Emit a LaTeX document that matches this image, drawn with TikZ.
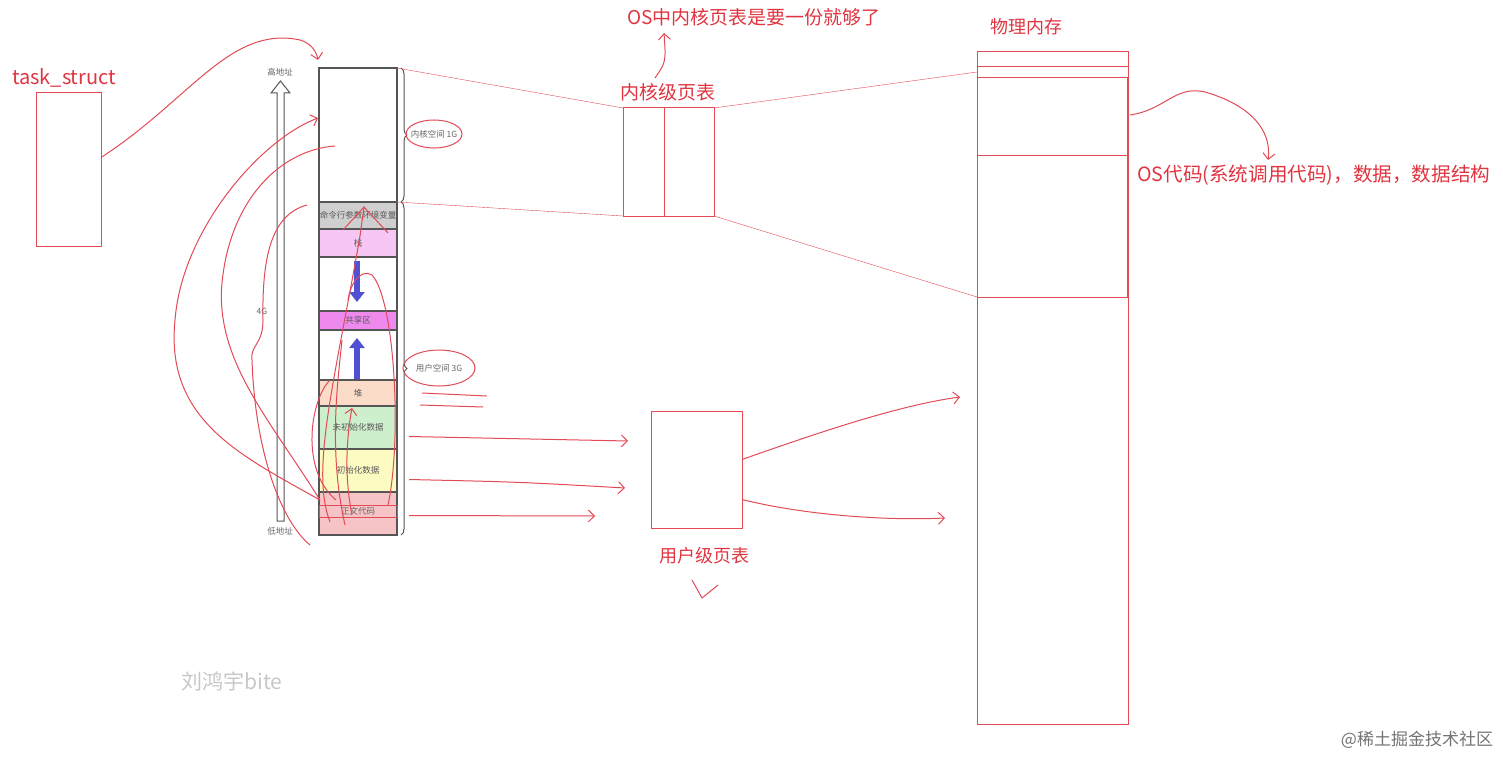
\documentclass[tikz,border=0pt]{standalone}
\usepackage{fontspec}
\setmainfont{Noto Sans CJK SC}
\usetikzlibrary{arrows.meta,decorations.pathreplacing}

\definecolor{pen}{HTML}{E24A55}
\definecolor{inkred}{HTML}{E03440}
\definecolor{segline}{HTML}{555555}
\definecolor{fillargv}{HTML}{CFCFCF}
\definecolor{fillstack}{HTML}{F6C6F4}
\definecolor{fillshm}{HTML}{EE8AEE}
\definecolor{fillheap}{HTML}{FADCC8}
\definecolor{fillbss}{HTML}{CDEFCB}
\definecolor{filldata}{HTML}{FBFBC2}
\definecolor{filltext}{HTML}{F6C4C6}
\definecolor{blockblue}{HTML}{5050D2}

\tikzset{
  seg/.style={draw=segline, line width=1.2pt, minimum width=78pt, inner sep=0pt, outer sep=0pt, font=\fontsize{8.5}{9}\selectfont, text=black!65},
  redbox/.style={draw=pen, line width=1pt, inner sep=0pt, outer sep=0pt},
  scrib/.style={draw=pen, line width=1pt},
  hook/.style={scrib, -{Straight Barb[length=6pt,width=12pt]}},
  redtxt/.style={text=inkred, font=\fontsize{19}{21}\selectfont, inner sep=0pt},
  graylbl/.style={text=black!60, font=\fontsize{8.5}{9}\selectfont, inner sep=0pt},
  blockarrow/.style={draw=blockblue!70!black, line width=6pt, blockblue, -{Triangle[length=10pt,width=15pt]}},
}

\begin{document}
\begin{tikzpicture}[x=1pt, y=-1pt]
\useasboundingbox (0,0) rectangle (1503,757);

% task_struct
\node[redbox, minimum width=65pt, minimum height=153pt] (task) at (68.5,169.5) {};
\node[redtxt, font=\fontsize{20}{22}\selectfont] (tasklbl) at (64,78) {task\_struct};

% address arrow
\draw[segline, line width=1pt, fill=white] (277,521) -- (277,93) -- (271,93) -- (280.5,81) -- (290,93) -- (284,93) -- (284,521) -- cycle;
\node[graylbl] (hiaddr) at (280,72) {高地址};
\node[graylbl] (loaddr) at (280,531) {低地址};
\node[graylbl] (fourg) at (262,311) {4G};

% process address space
\node[seg, fill=white, minimum height=134pt] (kern) at (358,135) {};
\node[seg, fill=fillargv, minimum height=27pt] (argv) at (358,215.5) {命令行参数环境变量};
\node[seg, fill=fillstack, minimum height=28pt] (stack) at (358,243) {栈};
\node[seg, fill=white, minimum height=54pt] (gapa) at (358,284) {};
\node[seg, fill=fillshm, minimum height=19pt] (shm) at (358,320.5) {共享区};
\node[seg, fill=white, minimum height=50pt] (gapb) at (358,355) {};
\node[seg, fill=fillheap, minimum height=26pt] (heap) at (358,393) {堆};
\node[seg, fill=fillbss, minimum height=43pt] (bss) at (358,427.5) {未初始化数据};
\node[seg, fill=filldata, minimum height=43pt] (data) at (358,470.5) {初始化数据};
\node[seg, fill=filltext, minimum height=43pt] (code) at (358,513.5) {};
\node[redbox, minimum width=78pt, minimum height=12pt, graylbl] (codelbl) at (358,511.5) {正文代码};

\draw[blockarrow] (357,261) -- (357,302);
\draw[blockarrow] (357,379) -- (357,338);

% braces
\draw[segline, line width=1pt, decorate, decoration={brace, amplitude=6pt}] (401,68) -- (401,202);
\draw[segline, line width=1pt, decorate, decoration={brace, amplitude=6pt}] (401,202) -- (401,535);
\node[graylbl] (kspace) at (434,134) {内核空间 1G};
\node[graylbl] (uspace) at (439,368) {用户空间 3G};
\draw[scrib] (kspace) ellipse [x radius=28, y radius=14];
\draw[scrib] (uspace) ellipse [x radius=36, y radius=18];
\draw[scrib] (422,393) -- (487,396);
\draw[scrib] (420,405) -- (483,407);

% kernel page table
\node[redbox, minimum width=41pt, minimum height=108pt] (kptl) at (643.5,162) {};
\node[redbox, minimum width=50pt, minimum height=108pt] (kptr) at (689,162) {};
\node[redtxt] (kptlbl) at (668,92) {内核级页表};
\node[redtxt] (oslbl) at (754,17) {OS中内核页表是要一份就够了};
\draw[hook] (655,78) .. controls (666,62) .. (664,33);

% physical memory
\node[redbox, minimum width=151pt, minimum height=672pt] (pm) at (1052.5,388) {};
\node[redtxt, font=\fontsize{18}{20}\selectfont] (pmlbl) at (1026,27) {物理内存};
\coordinate (pmtop) at (977,72);
\coordinate (pmbot) at (977,297);
\draw[pen] (977,66) -- (1128,66);
\draw[pen] (977,77) -- (1128,77);
\draw[pen] (977,155) -- (1128,155);
\draw[pen] (977,297) -- (1128,297);
\draw[pen, line width=2.2pt] (1128,77) -- (1128,297);
\node[redtxt, font=\fontsize{19.6}{22}\selectfont, anchor=west] (oscode) at (1137,175) {OS代码(系统调用代码)，数据，数据结构};
\draw[hook] (1130,115) .. controls (1165,110) and (1175,85) .. (1205,92) .. controls (1250,105) and (1272,130) .. (1268,160);

% mappings
\draw[pen] (kern.north east) -- (kptl.north west);
\draw[pen] (argv.north east) -- (kptl.south west);
\draw[pen] (kptr.north east) -- (pmtop);
\draw[pen] (kptr.south east) -- (pmbot);

% user page table
\node[redbox, minimum width=91pt, minimum height=117pt] (upt) at (696.5,469.5) {};
\node[redtxt, font=\fontsize{18}{20}\selectfont] (uptlbl) at (704,556) {用户级页表};
\draw[scrib] (692,580) -- (702,598) -- (718,585);
\coordinate (uina) at (628,441);
\coordinate (uinb) at (625,488);
\coordinate (uinc) at (595,516);
\coordinate (pmina) at (960,397);
\coordinate (pminb) at (945,518);
\draw[hook] ([shift={(12pt,-9pt)}]bss.east) -- (uina);
\draw[hook] ([shift={(12pt,-9pt)}]data.east) .. controls (520,482) .. (uinb);
\draw[hook] ([shift={(12pt,-2pt)}]code.east) -- (uinc);
\draw[hook] ([yshift=10pt]upt.east) .. controls (820,432) and (900,405) .. (pmina);
\draw[hook] ([yshift=-30pt]upt.east) .. controls (800,514) and (880,521) .. (pminb);

% task_struct -> address space
\draw[hook] ([yshift=12pt]task.east) .. controls (190,100) and (230,25) .. (300,40) .. controls (310,43) and (316,50) .. (318,60);

% scribbles around the address space
\draw[hook] (320,500) .. controls (240,455) and (165,420) .. (175,320) .. controls (182,230) and (260,140) .. (318,118);
\draw[scrib] (320,500) .. controls (270,420) and (215,360) .. (222,283) .. controls (230,200) and (280,150) .. (335,146);
\draw[scrib] (307,205) .. controls (270,215) and (262,260) .. (263,320) .. controls (263,345) and (250,345) .. (252,360) .. controls (255,450) and (280,520) .. (310,545);
\draw[scrib] (330,522) .. controls (310,470) and (335,380) .. (360,236) -- (364,207) -- (388,233);
\draw[scrib] (343,230) -- (364,207);
\draw[hook] (352,515) .. controls (343,470) and (348,430) .. (352,408);
\draw[scrib] (345,525) .. controls (328,450) and (338,380) .. (342,340);
\draw[scrib] (388,505) .. controls (402,440) and (395,300) .. (372,275) .. controls (360,268) and (350,285) .. (348,300);
\draw[scrib] (336,500) .. controls (300,470) and (310,400) .. (330,380);

% watermarks
\node[text=black!22, font=\fontsize{21}{23}\selectfont] (wmname) at (232,681) {刘鸿宇bite};
\node[text=black!55, font=\fontsize{17}{19}\selectfont] (wmsite) at (1417,740) {@稀土掘金技术社区};
\end{tikzpicture}
\end{document}
